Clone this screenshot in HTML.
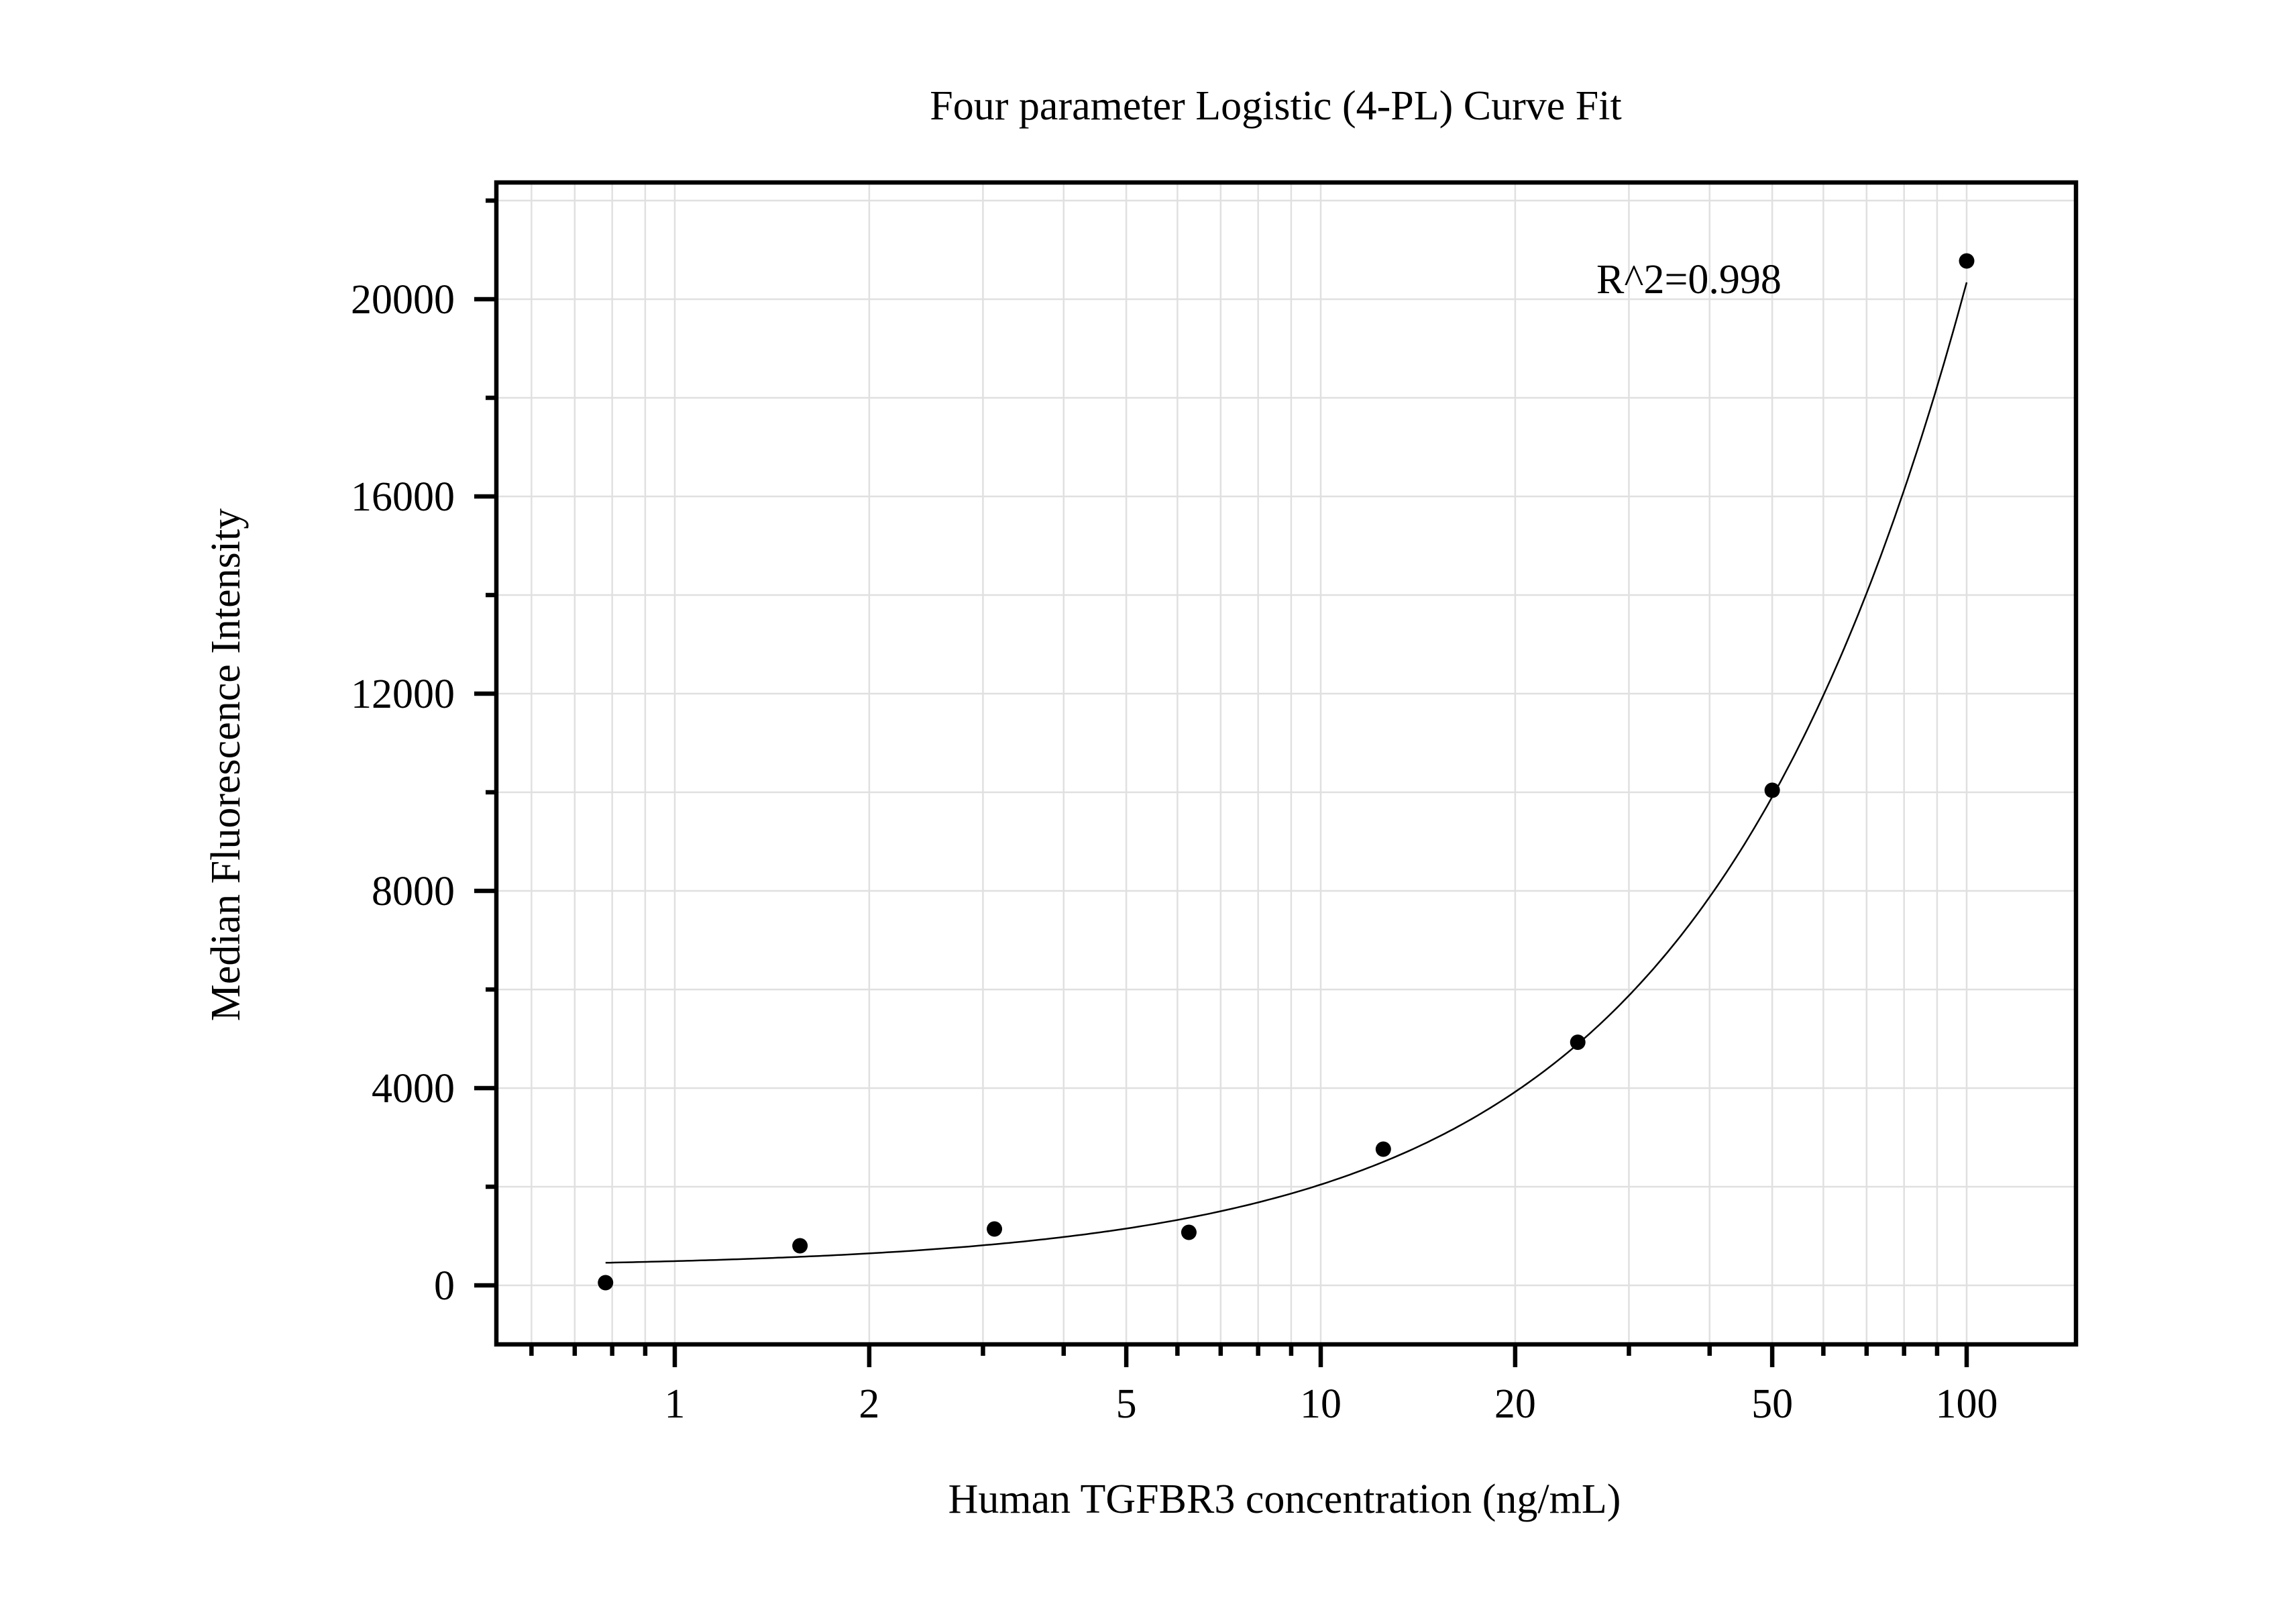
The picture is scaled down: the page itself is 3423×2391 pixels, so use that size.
<!DOCTYPE html>
<html><head><meta charset="utf-8"><style>
html,body{margin:0;padding:0;background:#fff;}
svg{display:block;font-family:"Liberation Serif",serif;}
</style></head><body>
<svg id="chart" width="3423" height="2391" viewBox="0 0 3423 2391" xmlns="http://www.w3.org/2000/svg">
<rect width="3423" height="2391" fill="#fff"/>
<g id="grid"></g>
<g id="curve-g"></g>
<g id="points"></g>
<g id="axes"></g>
<text x="1902" y="178" font-size="62" text-anchor="middle">Four parameter Logistic (4-PL) Curve Fit</text>
<text x="2380" y="437" font-size="62">R^2=0.998</text>
<text x="1915" y="2255" font-size="62" text-anchor="middle">Human TGFBR3 concentration (ng/mL)</text>
<text transform="translate(357,1140) rotate(-90)" font-size="62" text-anchor="middle">Median Fluorescence Intensity</text>
</svg>
<script>
const xValues = [0.78125, 1.5625, 3.125, 6.25, 12.5, 25, 50, 100];
const yValues = [54, 803, 1143, 1075, 2762, 4930, 10040, 20776];
const fitParams = [350, 1.08, 3673, 1000000]; // A, B, C, D of 4PL
const xTickValues = [1, 2, 5, 10, 20, 50, 100];
const xTickLabels = ["1", "2", "5", "10", "20", "50", "100"];
const yTickValues = [0, 4000, 8000, 12000, 16000, 20000];
const yTickLabels = ["0", "4000", "8000", "12000", "16000", "20000"];

const L = 740, R = 3095, T = 272, B = 2004;
const X0 = 1006, DEC = 963;
const Y0 = 1916, YS = 1470 / 20000;
function sx(v) { return X0 + Math.log10(v) * DEC; }
function sy(v) { return Y0 - v * YS; }
const NS = "http://www.w3.org/2000/svg";
function mk(tag, attrs, parent) {
  const e = document.createElementNS(NS, tag);
  for (const k in attrs) e.setAttribute(k, attrs[k]);
  parent.appendChild(e);
  return e;
}
const grid = document.getElementById('grid');
const axes = document.getElementById('axes');
// vertical grid + x ticks
const minors = [];
for (let d = -1; d <= 2; d++) for (let m = 1; m <= 9; m++) {
  const v = m * Math.pow(10, d);
  const px = sx(v);
  if (px > L + 3 && px < R - 3 && v <= 100.0001) minors.push(v);
}
minors.forEach(v => {
  const px = sx(v);
  const g = mk('line', {x1: px, x2: px, y1: T, y2: B, stroke: '#e0e0e0', 'stroke-width': 2.5}, grid);
  
  
  const major = xTickValues.includes(Math.round(v * 1000) / 1000);
  const t = mk('line', {x1: px, x2: px, y1: B, y2: B + (major ? 34 : 17), stroke: '#000', 'stroke-width': 6.5}, axes);
  
  
});
xTickValues.forEach((v, i) => {
  const t = mk('text', {x: sx(v), y: 2113, 'font-size': 62, 'text-anchor': 'middle'}, axes);
  t.textContent = xTickLabels[i];
  
  
});
// horizontal grid + y ticks
for (let v = 0; v <= 22000; v += 2000) {
  const py = sy(v);
  const g = mk('line', {x1: L, x2: R, y1: py, y2: py, stroke: '#e0e0e0', 'stroke-width': 2.5}, grid);
  
  
  const major = v % 4000 === 0;
  const t = mk('line', {x1: L - (major ? 33 : 16), x2: L, y1: py, y2: py, stroke: '#000', 'stroke-width': 6.5}, axes);
  
  
}
yTickValues.forEach((v, i) => {
  const t = mk('text', {x: 678, y: sy(v) + 21, 'font-size': 62, 'text-anchor': 'end'}, axes);
  t.textContent = yTickLabels[i];
  
  
});
const frame = mk('rect', {x: L, y: T, width: R - L, height: B - T, fill: 'none', stroke: '#000', 'stroke-width': 6.5}, axes);


// curve
function fit(x) {
  const [A, Bp, C, D] = fitParams;
  return D + (A - D) / (1 + Math.pow(x / C, Bp));
}
let d = '';
const x0 = xValues[0], x1 = xValues[xValues.length - 1];
for (let i = 0; i <= 300; i++) {
  const x = Math.pow(10, Math.log10(x0) + (Math.log10(x1) - Math.log10(x0)) * i / 300);
  d += (i ? 'L' : 'M') + sx(x).toFixed(1) + ',' + sy(fit(x)).toFixed(1);
}
const cp = mk('path', {d: d, fill: 'none', stroke: '#000', 'stroke-width': 2.5}, document.getElementById('curve-g'));


// points
const pts = document.getElementById('points');
xValues.forEach((x, i) => {
  const c = mk('circle', {cx: sx(x), cy: sy(yValues[i]), r: 11.5, fill: '#000'}, pts);
  
  
});
</script>
</body></html>
